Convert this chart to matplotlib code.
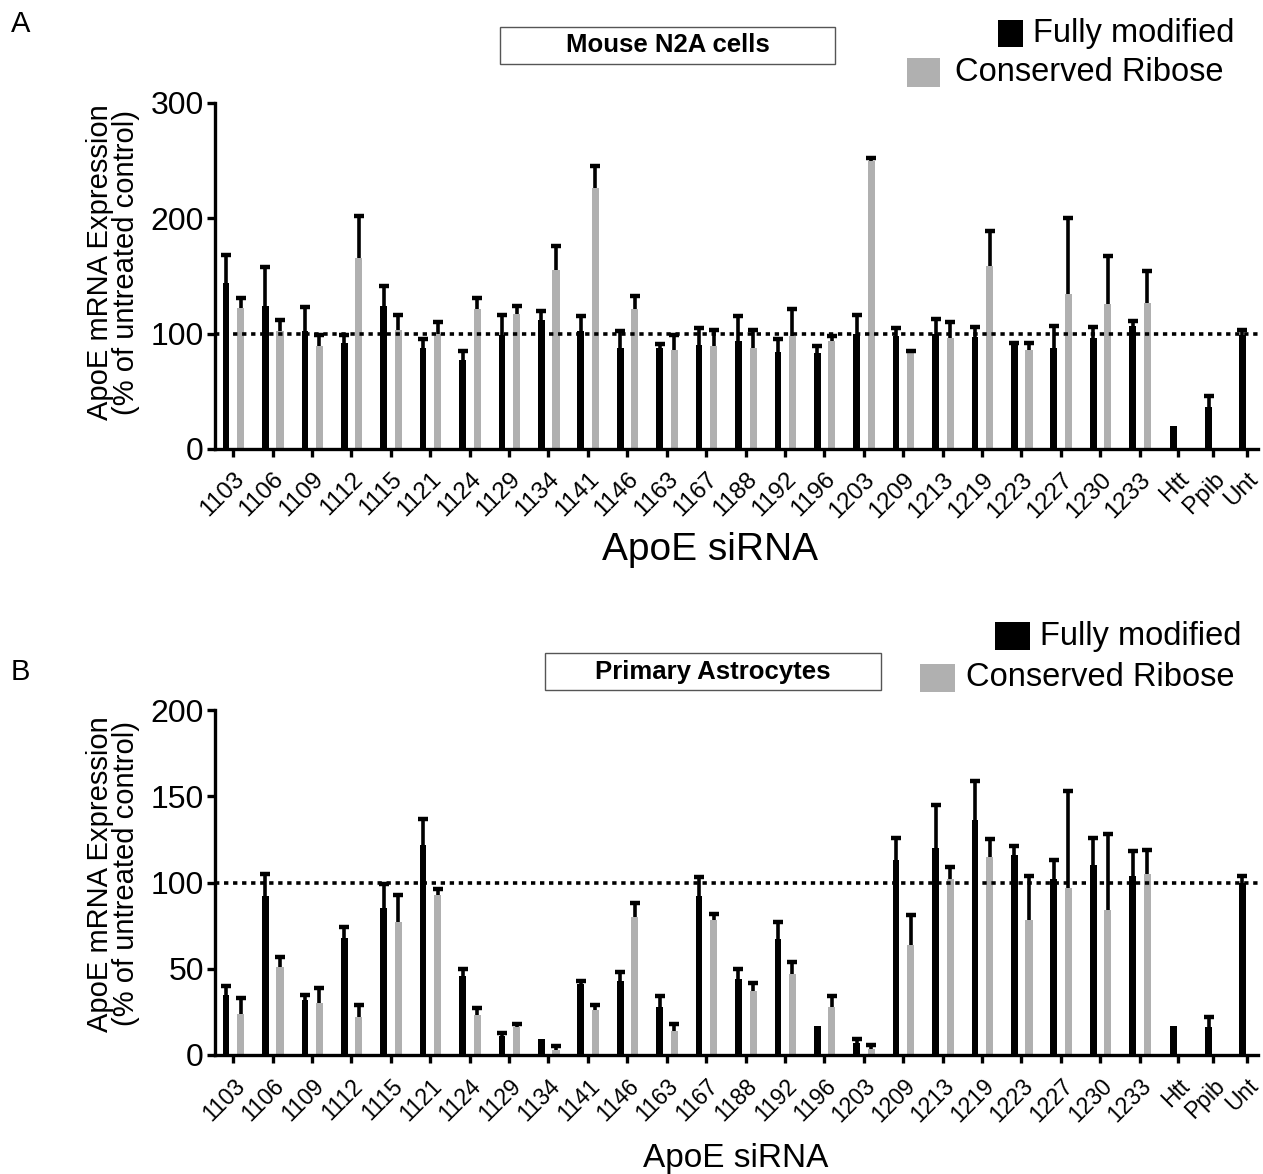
import numpy as np
import matplotlib
matplotlib.use("Agg")
import matplotlib.pyplot as plt
from matplotlib.patches import Rectangle

plt.rcParams['font.family'] = ['Liberation Sans', 'DejaVu Sans']

# siRNA names on the x axis
sirna = ['1103', '1106', '1109', '1112', '1115', '1121', '1124', '1129', '1134',
         '1141', '1146', '1163', '1167', '1188', '1192', '1196', '1203', '1209',
         '1213', '1219', '1223', '1227', '1230', '1233']
controls = ['Htt', 'Ppib', 'Unt']

# Panel A - Mouse N2A cells (mean, upper SD)
a_full = [144, 124, 102, 92, 124, 88, 77, 99, 112, 102, 88, 88, 90, 94, 84, 83,
          100, 98, 100, 97, 91, 88, 96, 107]
a_full_err = [24, 34, 21, 7, 17, 7, 8, 17, 8, 13, 14, 3, 15, 21, 11, 6,
              16, 7, 13, 9, 1, 19, 10, 4]
a_cons = [122, 102, 89, 166, 103, 100, 121, 117, 155, 226, 121, 86, 89, 88, 98, 94,
          250, 84, 96, 159, 86, 134, 126, 127]
a_cons_err = [9, 10, 10, 36, 13, 10, 10, 7, 21, 19, 12, 13, 14, 15, 23, 4,
              2, 1, 14, 30, 6, 66, 41, 27]
a_ctrl = [20, 36, 99]
a_ctrl_err = [0, 10, 4]

# Panel B - Primary astrocytes
b_full = [35, 92, 32, 68, 85, 122, 46, 11, 9, 41, 43, 28, 92, 44, 67, 17,
          7, 113, 120, 136, 116, 102, 110, 104]
b_full_err = [5, 13, 3, 6, 14, 15, 4, 2, 0, 2, 5, 6, 11, 6, 10, 0,
              2, 13, 25, 23, 5, 11, 16, 14]
b_cons = [24, 51, 30, 22, 77, 93, 23, 16, 3, 26, 80, 14, 78, 37, 47, 28,
          3.5, 64, 102, 115, 78, 97, 84, 105]
b_cons_err = [9, 6, 9, 7, 16, 3, 4, 2, 2, 3, 8, 4, 4, 5, 7, 6,
              2.5, 17, 7, 10, 26, 56, 44, 14]
b_ctrl = [17, 16, 100]
b_ctrl_err = [0, 6, 4]

GRAY = '#b0b0b0'
W, H = 1263, 1174

fig = plt.figure(figsize=(W / 100, H / 100), dpi=100)

xs = np.arange(len(sirna))
xc = len(sirna) - 1 + np.array([0.97, 1.87, 2.72])
xticks = np.concatenate([xs, xc])
labels = sirna + controls


def up_err(ax, x, val, err):
    # error bars drawn upward only, with a cap at the top
    val = np.asarray(val, float)
    err = np.asarray(err, float)
    ax.vlines(x, val, val + err, color='black', lw=2.6, zorder=3)
    m = err > 0
    ax.plot(np.asarray(x)[m], (val + err)[m], ls='none', marker='_',
            ms=6.5, mew=3.2, color='black', zorder=3)


def panel(rect, full, full_err, cons, cons_err, ctrl, ctrl_err, ymax, ystep, xtick_fs):
    ax = fig.add_axes(rect)
    ax.bar(xs - 0.18, full, width=0.17, color='black', zorder=2)
    ax.bar(xs + 0.19, cons, width=0.18, color=GRAY, zorder=2)
    ax.bar(xc - 0.12, ctrl, width=0.17, color='black', zorder=2)
    up_err(ax, xs - 0.18, full, full_err)
    up_err(ax, xs + 0.19, cons, cons_err)
    up_err(ax, xc - 0.12, ctrl, ctrl_err)
    ax.axhline(100, color='black', lw=2.6, linestyle=(0, (1.2, 1.3)), zorder=4)
    ax.set_xlim(-0.46, 26.0)
    ax.set_ylim(0, ymax)
    ax.set_yticks(np.arange(0, ymax + 1, ystep))
    ax.set_xticks(xticks)
    ax.set_xticklabels(labels, rotation=45, ha='right', va='top',
                       rotation_mode='anchor', fontsize=xtick_fs)
    for s in ['top', 'right']:
        ax.spines[s].set_visible(False)
    for s in ['left', 'bottom']:
        ax.spines[s].set_linewidth(2.4)
    ax.tick_params(axis='both', width=2.4, length=6, direction='out')
    ax.tick_params(axis='y', labelsize=23, pad=2)
    ax.tick_params(axis='x', pad=8)
    return ax


def fx(px):
    return px / W


def fy(py):
    return 1 - py / H


axA = panel([fx(215), fy(449), fx(1258) - fx(215), (449 - 103) / H],
            a_full, a_full_err, a_cons, a_cons_err, a_ctrl, a_ctrl_err, 300, 100, 17.5)
axB = panel([fx(215), fy(1055), fx(1258) - fx(215), (1055 - 710) / H],
            b_full, b_full_err, b_cons, b_cons_err, b_ctrl, b_ctrl_err, 200, 50, 16.5)

ylab = 'ApoE mRNA Expression\n(% of untreated control)'
fig.text(fx(113), fy(262), ylab, rotation=90, ha='center', va='center',
         fontsize=21, linespacing=0.9, multialignment='center')
fig.text(fx(113), fy(874), ylab, rotation=90, ha='center', va='center',
         fontsize=21, linespacing=0.9, multialignment='center')

fig.text(fx(710), fy(550), 'ApoE siRNA', ha='center', va='center', fontsize=28)
fig.text(fx(736), fy(1158), 'ApoE siRNA', ha='center', va='center', fontsize=24)

fig.text(fx(11), fy(24), 'A', ha='left', va='center', fontsize=21)
fig.text(fx(11), fy(672), 'B', ha='left', va='center', fontsize=21)


def titlebox(x0, y0, x1, y1, txt):
    fig.patches.append(Rectangle((fx(x0), fy(y1)), fx(x1) - fx(x0), (y1 - y0) / H,
                                 transform=fig.transFigure, facecolor='white',
                                 edgecolor='#555555', lw=1.0))
    fig.text(fx((x0 + x1) / 2), fy((y0 + y1) / 2), txt, ha='center', va='center',
             fontsize=18.5, fontweight='bold')


def legend_item(sx0, sx1, sy0, sy1, tx, txt, color):
    fig.patches.append(Rectangle((fx(sx0), fy(sy1)), fx(sx1) - fx(sx0), (sy1 - sy0) / H,
                                 transform=fig.transFigure, facecolor=color,
                                 edgecolor='none'))
    fig.text(fx(tx), fy((sy0 + sy1) / 2), txt, ha='left', va='center', fontsize=23.5)


titlebox(500, 27, 835, 64, 'Mouse N2A cells')
legend_item(998, 1023, 20, 47, 1033, 'Fully modified', 'black')
legend_item(907, 940, 58, 87, 955, 'Conserved Ribose', GRAY)

titlebox(545, 653, 881, 690, 'Primary Astrocytes')
legend_item(995, 1030, 622, 650, 1040, 'Fully modified', 'black')
legend_item(920, 955, 664, 692, 966, 'Conserved Ribose', GRAY)

fig.savefig('out.png', dpi=100)
